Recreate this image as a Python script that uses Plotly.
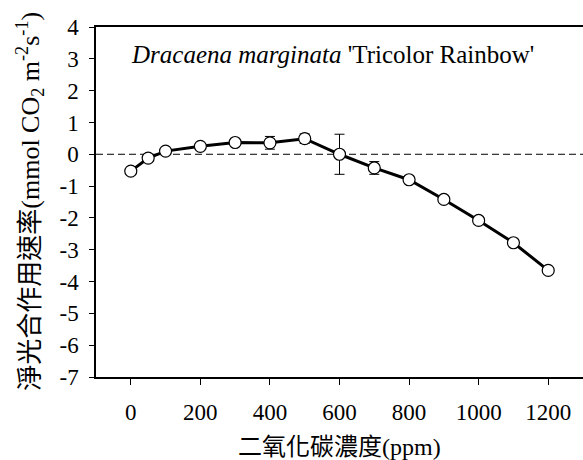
import plotly.graph_objects as go

# CO2 response of net photosynthesis
co2_ppm = [0, 50, 100, 200, 300, 400, 500, 600, 700, 800, 900, 1000, 1100, 1200]
net_rate = [-0.53, -0.12, 0.10, 0.25, 0.37, 0.36, 0.49, 0.00, -0.43, -0.80, -1.42, -2.08, -2.78, -3.65]
rate_err = [0.05, 0.05, 0.05, 0.05, 0.06, 0.20, 0.15, 0.63, 0.20, 0.06, 0.06, 0.12, 0.10, 0.05]

x_ticks = [0, 200, 400, 600, 800, 1000, 1200]
y_ticks = [4, 3, 2, 1, 0, -1, -2, -3, -4, -5, -6, -7]
y_tick_text = [str(v) for v in y_ticks]  # plain hyphen minus

serif = "Liberation Serif, Times New Roman, Noto Sans CJK TC, serif"

fig = go.Figure()

fig.add_trace(go.Scatter(
    x=co2_ppm, y=net_rate,
    mode="lines+markers",
    line=dict(color="black", width=3),
    marker=dict(symbol="circle", size=12, color="white",
                line=dict(color="black", width=1.2)),
    error_y=dict(type="data", array=rate_err, visible=True,
                 color="black", thickness=1, width=5),
    showlegend=False,
))

# dashed reference line at zero
fig.add_shape(type="line", xref="paper", yref="y", x0=0, x1=1, y0=0, y1=0,
              line=dict(color="black", width=1, dash="7px,4px"), layer="below")

fig.update_layout(
    width=583, height=460,
    margin=dict(l=96, r=0, t=27, b=83),
    paper_bgcolor="white", plot_bgcolor="white",
    font=dict(family=serif, size=23, color="black"),
    xaxis=dict(
        range=[-100, 1300], tickvals=x_ticks,
        ticks="outside", ticklen=6, tickwidth=1, tickcolor="black",
        ticklabelstandoff=8,
        showline=True, linecolor="black", linewidth=1.5, mirror=True,
        showgrid=False, zeroline=False,
    ),
    yaxis=dict(
        range=[-7, 4], tickvals=y_ticks, ticktext=y_tick_text,
        ticks="outside", ticklen=5, tickwidth=1, tickcolor="black",
        ticklabelstandoff=6,
        showline=True, linecolor="black", linewidth=1.5,
        showgrid=False, zeroline=False,
    ),
    annotations=[
        dict(text="<i>Dracaena marginata</i> 'Tricolor Rainbow'",
             xref="paper", yref="paper", x=0.485, y=0.92,
             xanchor="center", yanchor="middle", showarrow=False,
             font=dict(family=serif, size=25)),
        dict(text="淨光合作用速率(mmol CO<sub>2</sub> m<sup>-2</sup>s<sup>-1</sup>)",
             xref="paper", yref="paper", x=-0.136, y=0.503,
             xanchor="center", yanchor="middle", textangle=-90, showarrow=False,
             font=dict(family=serif, size=26)),
        dict(text="二氧化碳濃度(ppm)",
             xref="paper", yref="paper", x=0.5, y=-0.2,
             xanchor="center", yanchor="middle", showarrow=False,
             font=dict(family=serif, size=24)),
    ],
)

fig.write_html("out.html")
